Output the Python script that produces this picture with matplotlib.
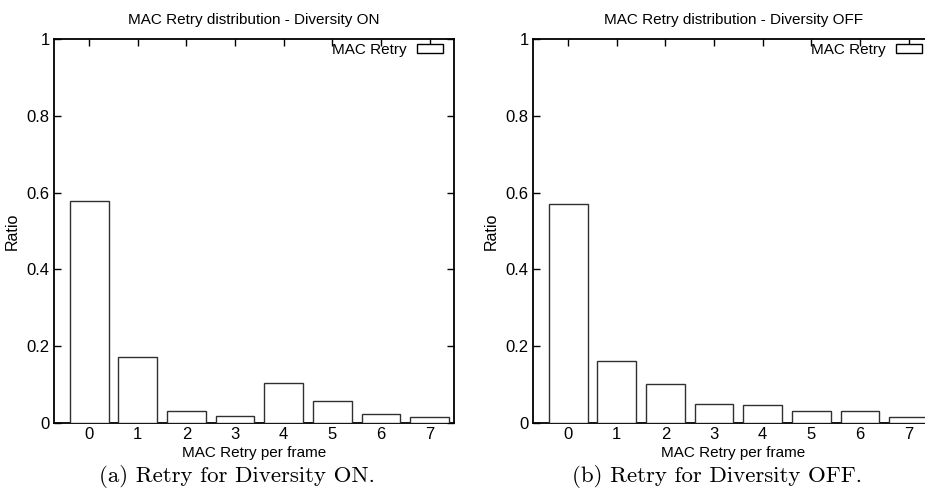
import matplotlib
matplotlib.use('Agg')
import matplotlib.pyplot as plt
from matplotlib.patches import Patch

# ── data ──────────────────────────────────────────────────────────────────────
retries = [0, 1, 2, 3, 4, 5, 6, 7]
ratio_on = [0.579, 0.171, 0.032, 0.018, 0.103, 0.056, 0.023, 0.015]
ratio_off = [0.570, 0.161, 0.101, 0.049, 0.046, 0.030, 0.031, 0.016]
yticks = [0, 0.2, 0.4, 0.6, 0.8, 1]
ytick_labels = ['0', '0.2', '0.4', '0.6', '0.8', '1']

SANS = ['Liberation Sans Narrow', 'Liberation Sans', 'DejaVu Sans']
plt.rcParams['font.family'] = SANS
FS = 11          # titles, axis labels, legend
FS_TICK = 12     # tick numbers

W, H = 925, 491
fig = plt.figure(figsize=(W / 100, H / 100), dpi=100)


def panel(x0, values, title, caption, cap_x):
    # axes box in pixel units -> figure fractions
    ax = fig.add_axes([x0 / W, (H - 423) / H, 400 / W, 384 / H])
    ax.bar(retries, values, width=0.8, facecolor='white',
           edgecolor='#303030', linewidth=1.0, zorder=3)
    ax.set_xlim(-0.72, 7.5)
    ax.set_ylim(0, 1)
    ax.set_xticks(retries)
    ax.set_yticks(yticks)
    ax.set_yticklabels(ytick_labels)
    ax.tick_params(axis='x', direction='in', top=True, bottom=False,
                   length=5, width=1, labelsize=FS_TICK, pad=3)
    ax.tick_params(axis='y', direction='in', left=True, right=True,
                   length=5, width=1, labelsize=FS_TICK, pad=3)
    for sp in ax.spines.values():
        sp.set_linewidth(1.3)
    ax.set_title(title, fontsize=FS, pad=11)
    ax.set_xlabel('MAC Retry per frame', fontsize=FS, labelpad=3)
    ax.set_ylabel('Ratio', fontsize=FS + 0.5, labelpad=5)
    ax.legend(handles=[Patch(facecolor='white', edgecolor='black', linewidth=1)],
              labels=['MAC Retry'], loc='upper right',
              bbox_to_anchor=(1 - 11 / 400, 1 - 4 / 384),
              frameon=False, markerfirst=False, fontsize=FS,
              handlelength=1.7, handleheight=0.5, handletextpad=0.7,
              borderpad=0, borderaxespad=0)
    fig.text(cap_x / W, 1 - 476 / H, caption, ha='center', va='center',
             family='cmr10', fontsize=16.5)
    return ax


panel(54, ratio_on, 'MAC Retry distribution - Diversity ON',
      '(a) Retry for Diversity ON.', 237)
panel(533, ratio_off, 'MAC Retry distribution - Diversity OFF',
      '(b) Retry for Diversity OFF.', 717)

fig.savefig('out.png', dpi=100)
